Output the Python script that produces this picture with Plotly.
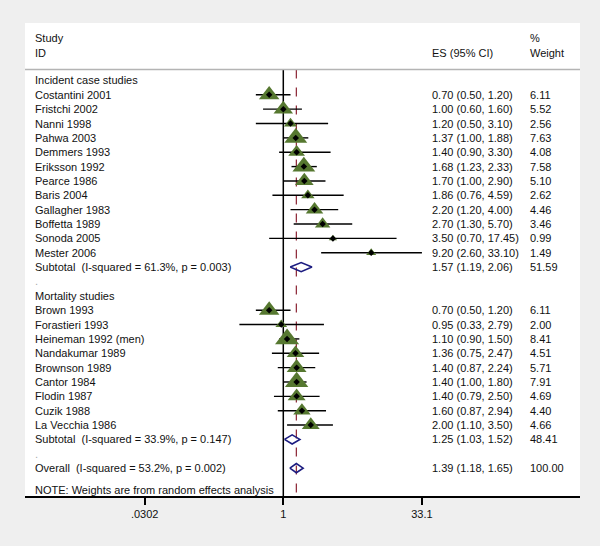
import math
import plotly.graph_objects as go

# ----------- Data -----------
incident_studies = ["Costantini 2001", "Fristchi 2002", "Nanni 1998", "Pahwa 2003", "Demmers 1993",
                    "Eriksson 1992", "Pearce 1986", "Baris 2004", "Gallagher 1983", "Boffetta 1989",
                    "Sonoda 2005", "Mester 2006"]
incident_es = [0.70, 1.00, 1.20, 1.37, 1.40, 1.68, 1.70, 1.86, 2.20, 2.70, 3.50, 9.20]
incident_lo = [0.50, 0.60, 0.50, 1.00, 0.90, 1.23, 1.00, 0.76, 1.20, 1.30, 0.70, 2.60]
incident_hi = [1.20, 1.60, 3.10, 1.88, 3.30, 2.33, 2.90, 4.59, 4.00, 5.70, 17.45, 33.10]
incident_w = [6.11, 5.52, 2.56, 7.63, 4.08, 7.58, 5.10, 2.62, 4.46, 3.46, 0.99, 1.49]
incident_sub = (1.57, 1.19, 2.06, 51.59)
incident_sub_label = "Subtotal  (I-squared = 61.3%, p = 0.003)"

mortality_studies = ["Brown 1993", "Forastieri 1993", "Heineman 1992 (men)", "Nandakumar 1989",
                     "Brownson 1989", "Cantor 1984", "Flodin 1987", "Cuzik 1988", "La Vecchia 1986"]
mortality_es = [0.70, 0.95, 1.10, 1.36, 1.40, 1.40, 1.40, 1.60, 2.00]
mortality_lo = [0.50, 0.33, 0.90, 0.75, 0.87, 1.00, 0.79, 0.87, 1.10]
mortality_hi = [1.20, 2.79, 1.50, 2.47, 2.24, 1.80, 2.50, 2.94, 3.50]
mortality_w = [6.11, 2.00, 8.41, 4.51, 5.71, 7.91, 4.69, 4.40, 4.66]
mortality_sub = (1.25, 1.03, 1.52, 48.41)
mortality_sub_label = "Subtotal  (I-squared = 33.9%, p = 0.147)"

overall = (1.39, 1.18, 1.65, 100.00)
overall_label = "Overall  (I-squared = 53.2%, p = 0.002)"

tick_vals = [0.0302, 1, 33.1]
tick_text = [".0302", "1", "33.1"]

# ----------- Layout helpers -----------
FONT = "Liberation Sans, Arial, sans-serif"
TXT = "#111111"
GREEN = "#567830"
NAVY = "#1c1c80"
X_MIN, X_MAX = 0.0302, 33.1
Y_TOP_LINE = -0.76
Y_AXIS = 28.94

rows = []  # (row index, study label, es, lo, hi, weight, kind)
r = 0
rows.append((r, "Incident case studies", None, None, None, None, "head"))
for i, s in enumerate(incident_studies):
    r += 1
    rows.append((r, s, incident_es[i], incident_lo[i], incident_hi[i], incident_w[i], "study"))
r += 1
rows.append((r, incident_sub_label, *incident_sub, "pool"))
r += 1
rows.append((r, ".", None, None, None, None, "dot"))
r += 1
rows.append((r, "Mortality studies", None, None, None, None, "head"))
for i, s in enumerate(mortality_studies):
    r += 1
    rows.append((r, s, mortality_es[i], mortality_lo[i], mortality_hi[i], mortality_w[i], "study"))
r += 1
rows.append((r, mortality_sub_label, *mortality_sub, "pool"))
r += 1
rows.append((r, ".", None, None, None, None, "dot"))
r += 1
rows.append((r, overall_label, *overall, "pool"))

fig = go.Figure()

# reference lines
fig.add_trace(go.Scatter(x=[1, 1], y=[Y_TOP_LINE, Y_AXIS], mode="lines",
                         line=dict(color="black", width=1.5), hoverinfo="skip"))
fig.add_trace(go.Scatter(x=[overall[0], overall[0]], y=[Y_TOP_LINE, Y_AXIS], mode="lines",
                         line=dict(color="#8b2232", width=1.2, dash="dash"), hoverinfo="skip"))

# confidence interval lines (clipped at the axis limit, with an arrow when cut)
cx, cy = [], []
for (ri, lab, es, lo, hi, w, kind) in rows:
    if kind == "study":
        cx += [max(lo, X_MIN), min(hi, X_MAX), None]
        cy += [ri, ri, None]
        if hi > X_MAX:
            cx += [X_MAX / 1.2, X_MAX, X_MAX / 1.2, None]
            cy += [ri - 0.3, ri, ri + 0.3, None]
fig.add_trace(go.Scatter(x=cx, y=cy, mode="lines", line=dict(color="black", width=1.4),
                         hoverinfo="skip"))

# weight triangles and point estimates
st = [x for x in rows if x[6] == "study"]
fig.add_trace(go.Scatter(
    x=[x[2] for x in st], y=[x[0] for x in st], mode="markers",
    marker=dict(symbol="triangle-up", color=GREEN, opacity=1,
                size=[7.2 * math.sqrt(x[5]) for x in st], line=dict(width=0))
))
fig.add_trace(go.Scatter(
    x=[x[2] for x in st], y=[x[0] for x in st], mode="markers",
    marker=dict(symbol="diamond", color="black", size=5, opacity=1, line=dict(width=0))
))

# pooled diamonds
h = 0.32
for (ri, lab, es, lo, hi, w, kind) in rows:
    if kind == "pool":
        fig.add_trace(go.Scatter(x=[lo, es, hi, es, lo], y=[ri, ri - h, ri, ri + h, ri],
                                 mode="lines", line=dict(color=NAVY, width=1.6),
                                 hoverinfo="skip"))

# ----------- Text columns -----------
X_LAB = (33 - 25) / 555
X_ES = (430 - 25) / 555
X_W = (528 - 25) / 555


def txt(x, y, s, color=TXT):
    fig.add_annotation(x=x, y=y, xref="paper", yref="y", text=s, showarrow=False,
                       xanchor="left", yanchor="middle", font=dict(family=FONT, size=11, color=color))


txt(X_LAB, -2.95, "Study")
txt(X_LAB, -1.93, "ID")
txt(X_ES, -1.93, "ES (95% CI)")
txt(X_W, -2.95, "%")
txt(X_W, -1.93, "Weight")

for (ri, lab, es, lo, hi, w, kind) in rows:
    txt(X_LAB, ri, lab, color="#aaaaaa" if kind == "dot" else TXT)
    if es is not None:
        txt(X_ES, ri, "%.2f (%.2f, %.2f)" % (es, lo, hi))
        txt(X_W, ri, "%.2f" % w)

txt(X_LAB, 28.5, "NOTE: Weights are from random effects analysis")

fig.add_shape(type="line", xref="paper", yref="y", x0=0, x1=1, y0=Y_TOP_LINE, y1=Y_TOP_LINE,
              line=dict(color="#b4b4b4", width=1.5))

fig.update_xaxes(type="log", range=[-2.832, 3.253], tickvals=tick_vals, ticktext=tick_text,
                 ticks="outside", ticklen=7, tickwidth=2, tickcolor="black",
                 showline=True, linecolor="black", linewidth=1.5, showgrid=False, zeroline=False,
                 tickfont=dict(family=FONT, size=11, color=TXT))
fig.update_yaxes(range=[Y_AXIS, -4], visible=False, showgrid=False, zeroline=False)

fig.update_layout(
    width=600, height=546,
    showlegend=False,
    plot_bgcolor="white",
    paper_bgcolor="#efefef",
    margin=dict(l=25, r=20, t=23, b=50),
    font=dict(family=FONT, size=11, color=TXT)
)

fig.write_html("out.html", config={"displayModeBar": False},
               post_script="document.body.style.margin='0';document.body.style.background='#efefef';")
